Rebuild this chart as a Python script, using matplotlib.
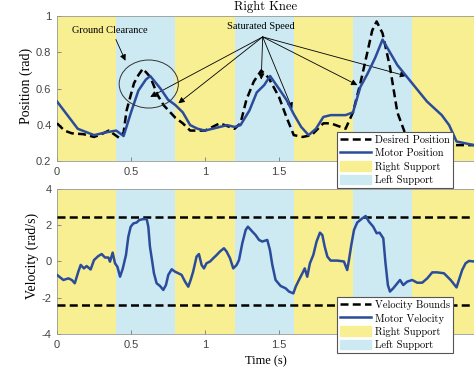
import matplotlib
matplotlib.use('Agg')
import matplotlib.pyplot as plt
from matplotlib.patches import Ellipse, Patch
from matplotlib.lines import Line2D

# fases de apoyo (limites en segundos)
fases = [0.0, 0.4, 0.8, 1.2, 1.6, 2.0, 2.4, 2.818]
fase_apoyo = ['right', 'left', 'right', 'left', 'right', 'left', 'right']

# posicion deseada (rad)
t_des = [0.0, 0.05, 0.1, 0.18, 0.25, 0.3, 0.35, 0.42, 0.45, 0.47, 0.52, 0.55, 0.58,
         0.63, 0.68, 0.72, 0.8, 0.85, 0.9, 1.0, 1.1, 1.2, 1.24, 1.28, 1.33, 1.38,
         1.43, 1.5, 1.55, 1.6, 1.66, 1.72, 1.8, 1.85, 1.95, 2.0, 2.05, 2.1, 2.13,
         2.16, 2.2, 2.25, 2.3, 2.35, 2.45, 2.6, 2.7, 2.818]
pos_des = [0.41, 0.37, 0.355, 0.35, 0.335, 0.35, 0.37, 0.33, 0.36, 0.48, 0.63, 0.675, 0.71,
           0.665, 0.565, 0.51, 0.44, 0.41, 0.37, 0.37, 0.41, 0.38, 0.41, 0.54, 0.64, 0.70,
           0.66, 0.555, 0.445, 0.345, 0.335, 0.345, 0.41, 0.41, 0.38, 0.47, 0.63, 0.81, 0.92,
           0.97, 0.905, 0.72, 0.47, 0.36, 0.32, 0.30, 0.29, 0.29]

# posicion del motor (rad)
t_mot = [0.0, 0.14, 0.25, 0.33, 0.4, 0.45, 0.5, 0.55, 0.6, 0.63, 0.7, 0.75, 0.8, 0.85,
         0.9, 0.95, 1.0, 1.1, 1.15, 1.2, 1.24, 1.3, 1.35, 1.4, 1.44, 1.5, 1.55, 1.6,
         1.65, 1.7, 1.75, 1.8, 1.85, 1.95, 2.0, 2.05, 2.1, 2.15, 2.2, 2.25, 2.3, 2.4,
         2.5, 2.6, 2.65, 2.7, 2.818]
pos_mot = [0.53, 0.38, 0.345, 0.36, 0.37, 0.34, 0.47, 0.59, 0.65, 0.67, 0.60, 0.54, 0.51, 0.47,
           0.40, 0.38, 0.37, 0.39, 0.40, 0.39, 0.40, 0.48, 0.58, 0.62, 0.67, 0.60, 0.54, 0.46,
           0.39, 0.345, 0.38, 0.445, 0.455, 0.455, 0.47, 0.61, 0.685, 0.77, 0.87, 0.80, 0.73, 0.63,
           0.53, 0.455, 0.40, 0.31, 0.29]

# velocidad del motor (rad/s)
t_vel = [0.0, 0.043, 0.077, 0.1, 0.12, 0.144, 0.16, 0.182, 0.2, 0.227, 0.25, 0.279, 0.302,
         0.324, 0.347, 0.358, 0.376, 0.392, 0.408, 0.426, 0.444, 0.466, 0.482, 0.498, 0.516,
         0.538, 0.556, 0.583, 0.606, 0.617, 0.628, 0.64, 0.655, 0.673, 0.696, 0.718, 0.736,
         0.752, 0.775, 0.797, 0.82, 0.842, 0.865, 0.887, 0.903, 0.92, 0.943, 0.959, 0.977,
         0.993, 1.01, 1.034, 1.056, 1.079, 1.101, 1.128, 1.146, 1.169, 1.191, 1.214, 1.23,
         1.252, 1.275, 1.29, 1.32, 1.342, 1.365, 1.387, 1.421, 1.439, 1.455, 1.477, 1.511,
         1.545, 1.568, 1.597, 1.613, 1.635, 1.658, 1.674, 1.691, 1.709, 1.732, 1.754, 1.777,
         1.793, 1.809, 1.827, 1.849, 1.894, 1.939, 1.961, 1.973, 1.989, 2.007, 2.029, 2.063,
         2.086, 2.108, 2.137, 2.16, 2.18, 2.205, 2.22, 2.236, 2.25, 2.272, 2.3, 2.318, 2.34,
         2.367, 2.4, 2.434, 2.468, 2.502, 2.536, 2.57, 2.615, 2.66, 2.7, 2.716, 2.738, 2.761,
         2.784, 2.818]
vel_mot = [-0.74, -1.02, -0.93, -1.02, -1.2, -0.56, -0.19, -0.38, -0.25, -0.44, 0.08, 0.3, 0.41,
           0.22, 0.22, -0.01, 0.49, -0.1, -0.29, -0.84, -0.4, 0.36, 1.37, 1.92, 2.1,
           2.15, 2.29, 2.34, 2.34, 1.92, 0.82, 0.18, -0.65, -1.2, -1.35, -1.57, -1.3,
           -0.74, -0.43, -0.56, -0.65, -0.74, -1.11, -1.39, -1.02, -0.56, 0.27, 0.41, -0.19,
           -0.38, -0.1, 0.0, 0.18, 0.36, 0.55, 0.73, 0.55, 0.18, -0.38, -0.19, 0.08,
           1.0, 1.74, 1.92, 1.65, 1.46, 1.19, 1.1, 1.19, 0.63, -0.19, -1.02, -1.35,
           -1.48, -1.66, -1.76, -1.39, -1.02, -0.65, -0.38, -0.84, -0.1, 0.36, 1.1, 1.59,
           1.46, 0.82, 0.27, 0.05, 0.05, 0.0, -0.47, 0.08, 0.92, 1.74, 2.15, 2.38,
           2.51, 2.2, 1.92, 1.56, 1.59, 1.28, -0.1, -1.3, -1.66, -1.48, -1.2, -1.02, -1.3,
           -1.11, -1.02, -1.17, -1.17, -0.93, -0.6, -0.6, -0.65, -1.02, -1.43, -1.02, -0.47, -0.1,
           0.03, 0.0]
vel_max = 2.45
vel_min = -2.4

x_ticks = [0, 0.5, 1, 1.5, 2, 2.5]
# las etiquetas 2 y 2.5 quedan tapadas por la leyenda en la figura original
x_ticklabels = ['0', '0.5', '1', '1.5', '', '']
pos_ticks = [0.2, 0.4, 0.6, 0.8, 1]
pos_ticklabels = ['0.2', '0.4', '0.6', '0.8', '1']
vel_ticks = [-4, -2, 0, 2, 4]
vel_ticklabels = ['-4', '-2', '0', '2', '4']

# puntos de las flechas de "Saturated Speed"
sat_t = [0.63, 0.82, 1.38, 1.59, 2.03, 2.36]
sat_y = [0.555, 0.52, 0.65, 0.49, 0.62, 0.67]

AMARILLO = '#F8EE92'
AZUL_CLARO = '#CDE9F2'
AZUL = '#2B4C9B'
SERIF = 'Liberation Serif'
CM = 'cmr10'
DASH = (3.2, 1.7)

fig = plt.figure(figsize=(4.74, 3.9), dpi=100)
ax1 = fig.add_axes([0.1203, 0.5859, 0.8797, 0.3731])
ax2 = fig.add_axes([0.1203, 0.1436, 0.8797, 0.3718])

for ax in (ax1, ax2):
    for i in range(len(fase_apoyo)):
        c = AMARILLO if fase_apoyo[i] == 'right' else AZUL_CLARO
        ax.axvspan(fases[i], fases[i + 1], color=c, lw=0, zorder=0)
    ax.set_xlim(fases[0], fases[-1])
    ax.set_xticks(x_ticks)
    ax.set_xticklabels(x_ticklabels)
    ax.tick_params(direction='in', length=3, width=0.6, color='#777777',
                   labelsize=8, labelcolor='#444444', pad=4)
    for lab in ax.get_xticklabels() + ax.get_yticklabels():
        lab.set_family('Liberation Sans')
    for s in ax.spines.values():
        s.set_color('#999999')
        s.set_linewidth(0.6)

# grafica de posicion
ax1.plot(t_des, pos_des, color='black', lw=1.8, dashes=DASH, zorder=3)
ax1.plot(t_mot, pos_mot, color=AZUL, lw=1.8, zorder=4)
ax1.set_ylim(0.2, 1)
ax1.set_yticks(pos_ticks)
ax1.set_yticklabels(pos_ticklabels, family='Liberation Sans')
ax1.set_ylabel('Position (rad)', family=SERIF, fontsize=10)
ax1.yaxis.label.set_va('center')
ax1.yaxis.set_label_coords(-0.0743, 0.519)
ax1.text(0.5, 1.062, 'Right Knee', transform=ax1.transAxes, ha='center', va='center',
         family=CM, fontsize=9)

ax1.add_patch(Ellipse((0.62, 0.626), 0.40, 0.264, fill=False, ec='#333333', lw=0.7, zorder=5))
ax1.text(0.36, 0.92, 'Ground Clearance', ha='center', va='center', family=SERIF, fontsize=7.5)
ax1.annotate('', xy=(0.47, 0.74), xytext=(0.39, 0.885),
             arrowprops=dict(arrowstyle='-|>', color='black', lw=0.6, mutation_scale=9))
ax1.text(1.38, 0.94, 'Saturated Speed', ha='center', va='center', family=SERIF, fontsize=7.5)
for i in range(len(sat_t)):
    ax1.annotate('', xy=(sat_t[i], sat_y[i]), xytext=(1.39, 0.885),
                 arrowprops=dict(arrowstyle='-|>', color='black', lw=0.6, mutation_scale=9,
                                 shrinkA=0, shrinkB=0))

leg_kw = dict(loc='upper left', borderaxespad=0, prop={'family': CM, 'size': 7.5},
              fancybox=False, framealpha=1, edgecolor='#555555', handlelength=3.0,
              handleheight=1.0, labelspacing=0.28, borderpad=0.3, handletextpad=0.4)

handles1 = [Line2D([], [], color='black', lw=1.8, dashes=DASH),
            Line2D([], [], color=AZUL, lw=1.8),
            Patch(color=AMARILLO), Patch(color=AZUL_CLARO)]
leg1 = ax1.legend(handles1, ['Desired Position', 'Motor Position', 'Right Support', 'Left Support'],
                  bbox_to_anchor=(0.671, 0.203), **leg_kw)
leg1.get_frame().set_linewidth(0.8)
leg1.set_zorder(10)

# grafica de velocidad
ax2.plot([fases[0], fases[-1]], [vel_max, vel_max], color='black', lw=1.8, dashes=DASH, zorder=3)
ax2.plot([fases[0], fases[-1]], [vel_min, vel_min], color='black', lw=1.8, dashes=DASH, zorder=3)
ax2.plot(t_vel, vel_mot, color=AZUL, lw=1.8, zorder=4)
ax2.set_ylim(-4, 4)
ax2.set_yticks(vel_ticks)
ax2.set_yticklabels(vel_ticklabels, family='Liberation Sans')
ax2.set_ylabel('Velocity (rad/s)', family=SERIF, fontsize=10)
ax2.yaxis.label.set_va('center')
ax2.yaxis.set_label_coords(-0.06, 0.538)
ax2.set_xlabel('Time (s)', family=SERIF, fontsize=9)
ax2.xaxis.label.set_va('center')
ax2.xaxis.set_label_coords(0.5, -0.186)

handles2 = [Line2D([], [], color='black', lw=1.8, dashes=DASH),
            Line2D([], [], color=AZUL, lw=1.8),
            Patch(color=AMARILLO), Patch(color=AZUL_CLARO)]
leg2 = ax2.legend(handles2, ['Velocity Bounds', 'Motor Velocity', 'Right Support', 'Left Support'],
                  bbox_to_anchor=(0.671, 0.255), **leg_kw)
leg2.get_frame().set_linewidth(0.8)
leg2.set_zorder(10)

plt.savefig('out.png', dpi=100)
